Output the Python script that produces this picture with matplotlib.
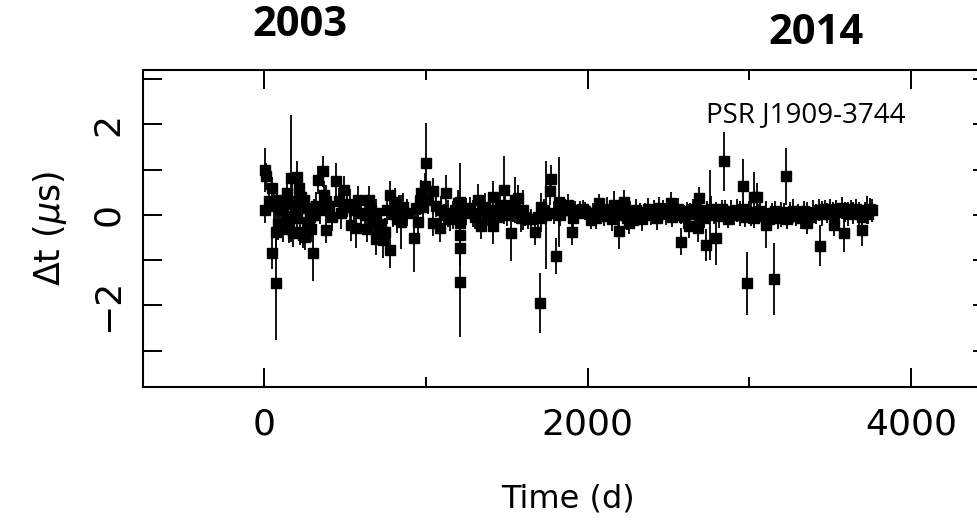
import numpy as np
import matplotlib
matplotlib.use("Agg")
import matplotlib.pyplot as plt
from matplotlib.ticker import MultipleLocator, FuncFormatter

# ----------------------------
# Timing residuals (days, microseconds)
# ----------------------------
early_t = [4, 4, 12, 30, 45, 48, 60, 70, 72, 76, 85, 95, 107, 115, 125, 138, 145,
           155, 162, 170, 180, 190, 199, 205, 212, 220, 228, 238, 245, 252, 262,
           270, 280, 290, 302, 310, 320, 333, 345, 364, 372, 381, 381, 400, 420,
           443, 460, 477, 494, 510, 529, 539, 555, 566, 580, 600, 621, 634, 646,
           660, 673, 693, 693, 710, 720, 735, 745, 760, 776, 776, 797, 807, 820,
           835, 848, 858, 880, 926, 940, 951, 965, 971, 982, 992, 998, 1013]
early_dt = [0.99, 0.11, 0.85, 0.30, 0.59, -0.85, 0.20, -1.51, -0.37, 0.33, -0.20,
            0.10, 0.11, -0.30, 0.25, 0.48, -0.04, -0.26, 0.81, 0.30, -0.41, 0.18,
            0.84, -0.07, 0.59, -0.37, 0.40, -0.44, 0.33, -0.48, 0.15, -0.15, -0.05,
            -0.30, -0.85, 0.00, 0.20, 0.77, 0.10, 0.96, 0.45, 0.30, -0.33, 0.20,
            -0.05, 0.75, 0.30, 0.04, 0.55, 0.25, 0.18, -0.22, 0.10, -0.29, 0.34,
            0.05, 0.00, -0.30, 0.34, 0.10, -0.15, 0.05, -0.54, -0.30, -0.20, -0.55,
            -0.37, 0.10, 0.44, -0.77, 0.03, 0.29, -0.10, 0.15, -0.15, 0.18, 0.05,
            -0.52, 0.15, -0.15, 0.30, 0.48, 0.18, 0.63, 1.14, 0.33]
early_err = [0.48, 0.28, 0.30, 0.25, 0.25, 0.35, 0.30, 1.25, 0.35, 0.30, 0.35,
             0.30, 0.30, 0.30, 0.25, 0.30, 0.30, 0.35, 1.40, 0.50, 0.30, 0.30,
             0.35, 0.30, 0.30, 0.30, 0.35, 0.30, 0.30, 0.30, 0.30, 0.30, 0.30,
             0.30, 0.60, 0.35, 0.30, 0.30, 0.30, 0.35, 0.30, 0.35, 0.30, 0.30,
             0.30, 0.40, 0.30, 0.35, 0.30, 0.30, 0.40, 0.35, 0.30, 0.45, 0.30,
             0.30, 0.30, 0.30, 0.30, 0.30, 0.35, 0.30, 0.35, 0.30, 0.30, 0.40,
             0.30, 0.30, 0.30, 0.40, 0.30, 0.30, 0.30, 0.30, 0.60, 0.30, 0.30,
             0.75, 0.30, 0.30, 0.30, 0.30, 0.30, 0.30, 0.88, 0.30]

mid_t = [1043, 1043, 1060, 1085, 1090, 1110, 1126, 1136, 1150, 1167, 1180, 1198,
         1208, 1208, 1208, 1208, 1208, 1225, 1248, 1270, 1290, 1305, 1321, 1341,
         1350, 1362, 1380, 1393, 1414, 1414, 1430, 1445, 1460, 1482, 1486, 1500,
         1527, 1540, 1548, 1568, 1580, 1589, 1599, 1615, 1630, 1650, 1671, 1690,
         1706, 1712, 1712, 1728, 1743, 1764, 1774, 1790, 1805, 1825, 1830, 1845,
         1860, 1877, 1890, 1900, 1908, 1920, 1939, 1955, 1970, 1985, 2001, 2021]
mid_dt = [0.52, -0.17, 0.20, -0.29, 0.11, 0.00, 0.48, 0.04, -0.10, 0.00, 0.10,
          0.26, 0.29, -0.18, -0.44, -0.73, -1.49, 0.05, 0.07, 0.15, 0.04, -0.05,
          0.33, -0.24, 0.12, 0.18, 0.00, 0.11, 0.40, -0.24, 0.10, -0.04, 0.20,
          0.55, 0.22, 0.00, -0.41, 0.10, 0.33, 0.37, 0.05, -0.07, 0.11, -0.05,
          -0.10, -0.08, -0.37, -0.05, -1.94, 0.18, -0.07, 0.10, 0.00, 0.52, 0.80,
          0.05, -0.90, 0.29, 0.00, 0.10, 0.15, 0.22, 0.10, -0.37, -0.07, 0.10,
          0.04, 0.10, 0.12, 0.08, 0.04, -0.11]
mid_err = [0.30, 0.30, 0.25, 0.30, 0.30, 0.25, 0.40, 0.30, 0.25, 0.30, 0.25,
           0.30, 0.85, 0.30, 0.35, 0.40, 1.20, 0.25, 0.30, 0.25, 0.30, 0.25,
           0.35, 0.30, 0.25, 0.30, 0.25, 0.30, 0.35, 0.40, 0.25, 0.30, 0.25,
           0.75, 0.30, 0.25, 0.60, 0.25, 0.50, 0.30, 0.25, 0.30, 0.45, 0.20,
           0.20, 0.20, 0.30, 0.25, 0.66, 0.30, 0.30, 0.25, 1.20, 0.30, 0.30,
           0.25, 0.40, 1.00, 0.25, 0.20, 0.20, 0.25, 0.20, 0.30, 0.25, 0.20,
           0.20, 0.20, 0.20, 0.20, 0.20, 0.20]

band_t = [2035, 2050, 2068, 2085, 2100, 2118, 2135, 2150, 2170, 2188, 2205, 2220,
          2240, 2262, 2285, 2300, 2320, 2338, 2355, 2372, 2390, 2410, 2428, 2450,
          2468, 2485, 2500, 2520, 2540, 2558, 2575, 2595, 2612, 2630, 2650, 2668,
          2685, 2702, 2720, 2740, 2760, 2778, 2795, 2812, 2830, 2850, 2868, 2885,
          2902, 2920, 2940, 2958, 2975, 2995, 3012, 3030, 3050, 3068, 3085, 3105,
          3122, 3140, 3160, 3178, 3195, 3212, 3230, 3250, 3268, 3285, 3302, 3320,
          3340, 3358, 3375, 3392, 3410, 3430, 3448, 3465, 3482, 3500, 3518, 3535,
          3552, 3570, 3590, 3608, 3625, 3642, 3660, 3678, 3695, 3712, 3730, 3745]
band_dt = [0.05, -0.06, 0.12, 0.08, -0.03, 0.14, 0.06, -0.08, 0.10, 0.00, 0.12,
           0.05, -0.07, 0.09, -0.02, 0.11, 0.04, -0.09, 0.06, 0.13, 0.00, 0.08,
           -0.06, 0.05, 0.11, 0.02, 0.09, -0.04, 0.06, 0.12, 0.03, -0.05, 0.08,
           0.02, 0.13, 0.05, -0.02, 0.10, -0.07, 0.06, 0.14, 0.03, 0.09, -0.03,
           0.12, 0.05, -0.08, 0.08, 0.00, 0.10, 0.03, 0.13, -0.04, 0.06, 0.02,
           -0.06, 0.05, 0.09, -0.02, 0.04, -0.09, 0.02, 0.08, -0.06, 0.01, 0.07,
           -0.08, 0.04, 0.09, -0.02, 0.05, -0.07, 0.08, 0.01, -0.04, 0.07, 0.02,
           0.11, 0.03, 0.13, 0.05, 0.10, 0.01, 0.12, 0.06, 0.15, 0.07, 0.02,
           0.12, 0.04, 0.14, 0.03, -0.05, 0.09, 0.02, 0.13]
band_err = [0.22, 0.25, 0.20, 0.27, 0.22, 0.25, 0.20, 0.27, 0.22, 0.25, 0.20,
            0.25, 0.27, 0.22, 0.20, 0.25, 0.22, 0.27, 0.20, 0.25, 0.22, 0.25,
            0.27, 0.20, 0.22, 0.25, 0.27, 0.22, 0.20, 0.25, 0.22, 0.27, 0.20,
            0.25, 0.22, 0.25, 0.27, 0.20, 0.22, 0.25, 0.27, 0.22, 0.20, 0.25,
            0.22, 0.27, 0.20, 0.25, 0.22, 0.25, 0.27, 0.20, 0.22, 0.25, 0.27,
            0.22, 0.20, 0.25, 0.22, 0.27, 0.20, 0.25, 0.22, 0.25, 0.27, 0.20,
            0.22, 0.25, 0.27, 0.22, 0.20, 0.25, 0.22, 0.27, 0.20, 0.25, 0.22,
            0.25, 0.27, 0.20, 0.22, 0.25, 0.27, 0.22, 0.20, 0.25, 0.22, 0.27,
            0.20, 0.25, 0.22, 0.25, 0.27, 0.20, 0.22, 0.25]

late_t = [2072, 2165, 2196, 2226, 2257, 2278, 2443, 2515, 2578, 2627, 2679, 2688,
          2731, 2757, 2792, 2844, 2961, 2984, 3030, 3045, 3101, 3152, 3225, 3358,
          3436, 3523, 3585, 3698, 3729, 3757]
late_dt = [0.26, 0.22, -0.35, 0.29, -0.18, -0.11, 0.15, 0.26, -0.59, -0.25,
           -0.29, 0.37, -0.67, 0.00, -0.51, 1.18, 0.64, -1.51, 0.40, 0.40, -0.22,
           -1.41, 0.85, -0.18, -0.68, -0.22, -0.41, -0.33, 0.11, 0.10]
late_err = [0.20, 0.30, 0.40, 0.25, 0.25, 0.20, 0.25, 0.25, 0.30, 0.25, 0.30,
            0.25, 0.35, 1.00, 0.60, 0.66, 0.60, 0.70, 0.55, 0.30, 0.50, 0.80,
            0.63, 0.25, 0.45, 0.25, 0.40, 0.35, 0.30, 0.25]

t = np.array(early_t + mid_t + band_t + late_t, dtype=float)
dt = np.array(early_dt + mid_dt + band_dt + late_dt)
err = np.array(early_err + mid_err + band_err + late_err)

# ----------------------------
# Plot
# ----------------------------
fig = plt.figure(figsize=(9.77, 5.21), dpi=100)
ax = fig.add_axes([0.1464, 0.2572, 0.869, 0.6084])

ax.errorbar(t, dt, yerr=err, fmt="s", color="black", ms=6.5,
            elinewidth=1.3, capsize=0)

ax.set_xlim(-750, 4500)
ax.set_ylim(-3.8, 3.2)

ax.xaxis.set_major_locator(MultipleLocator(2000))
ax.xaxis.set_minor_locator(MultipleLocator(1000))
ax.yaxis.set_major_locator(MultipleLocator(2))
ax.yaxis.set_minor_locator(MultipleLocator(1))
ax.yaxis.set_major_formatter(FuncFormatter(
    lambda v, p: f"{int(round(v))}".replace("-", "\u2212")))

ax.tick_params(which="both", direction="in", top=True, right=True,
               width=1.4, labelsize=26)
ax.tick_params(which="major", length=13.7)
ax.tick_params(axis="x", which="minor", length=7)
ax.tick_params(axis="y", which="minor", length=13.7)
ax.tick_params(axis="x", pad=15)
ax.tick_params(axis="y", pad=13)
for lab in ax.get_yticklabels():
    lab.set_rotation(90)
    lab.set_va("center")

for s in ax.spines.values():
    s.set_linewidth(1.5)

ax.set_xlabel("Time (d)", fontsize=23, labelpad=30)
ax.set_ylabel(r"$\Delta$t ($\mu$s)", fontsize=25, labelpad=16)

ax.text(2733, 2.05, "PSR J1909-3744", fontsize=20, family="Open Sans",
        va="baseline", ha="left")
fig.text(300 / 977, 1 - 26 / 521, "2003", fontsize=30, fontweight="bold",
         family="Open Sans", ha="center", va="center")
fig.text(816 / 977, 1 - 34 / 521, "2014", fontsize=30, fontweight="bold",
         family="Open Sans", ha="center", va="center")

fig.savefig("out.png", dpi=100)
